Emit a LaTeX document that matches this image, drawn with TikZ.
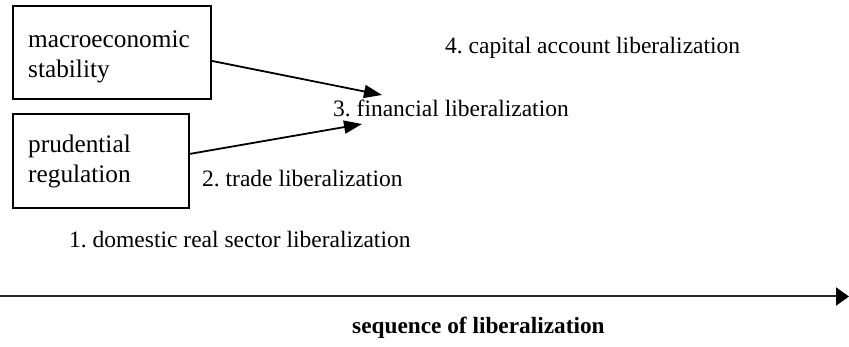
\documentclass[tikz,border=0pt]{standalone}
\usepackage{fontspec}
\setmainfont{Liberation Serif}
\usetikzlibrary{arrows.meta,calc}
\frenchspacing
\begin{document}
\begin{tikzpicture}[x=1pt,y=-1pt,
  txt/.style={font=\fontsize{23.5}{30}\selectfont, inner sep=0pt, anchor=base west, text=black},
  boxtxt/.style={txt, font=\fontsize{25.3}{30}\selectfont, align=left},
  boxstyle/.style={draw=black, line width=1.8pt, inner sep=0pt, anchor=north west},
  conn/.style={line width=1.8pt, -{Triangle[length=18pt,width=13pt]}},
  axis/.style={line width=2pt, draw=black!85, -{Triangle[length=13pt,width=18pt,color=black,fill=black]}}]
\useasboundingbox (0,0) rectangle (849,347);
\node[boxstyle, minimum width=198pt, minimum height=93pt] (macro) at (12,5) {};
\node[boxstyle, minimum width=176pt, minimum height=94pt] (prud) at (12,113) {};
\node[boxtxt] (macrotxt) at (28,78) {macroeconomic\\stability};
\node[boxtxt] (prudtxt) at (28,183) {prudential\\regulation};
\node[txt] (l4) at (445,53.3) {4. capital account liberalization};
\node[txt] (l3) at (333,117) {3. financial liberalization};
\node[txt] (l2) at (202,187) {2. trade liberalization};
\node[txt] (l1) at (69,248) {1. domestic real sector liberalization};
\node[txt, font=\fontsize{23.3}{30}\selectfont\bfseries] (seq) at (352,334) {sequence of liberalization};
\coordinate (t1) at (382,95);
\coordinate (t2) at (362,124);
\draw[conn] ([yshift=-8.5pt]macro.east) -- (t1);
\draw[conn] ([yshift=7pt]prud.east) -- (t2);
\coordinate (a0) at (0,296.5);
\coordinate (a1) at (849,296.5);
\draw[axis] (a0) -- (a1);
\end{tikzpicture}
\end{document}
